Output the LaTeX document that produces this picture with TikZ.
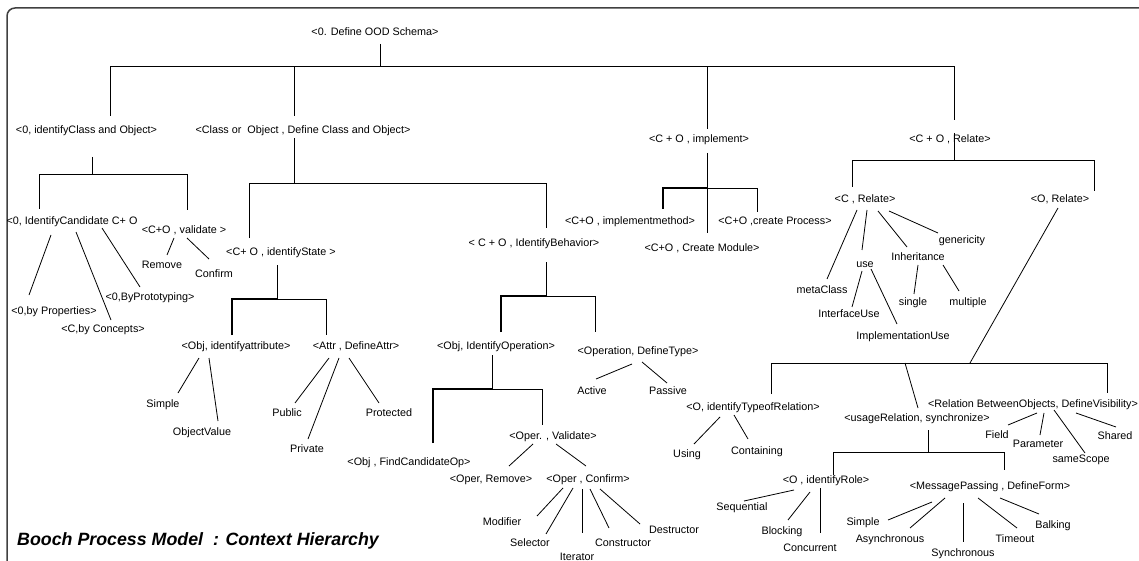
\documentclass[tikz,border=0pt]{standalone}
\usepackage{fontspec}
\setmainfont{Liberation Sans}
\newcommand{\lblfont}{\fontsize{10.8}{12}\selectfont}
\newcommand{\ttlfont}{\fontsize{17.8}{20}\selectfont\bfseries\itshape}
\begin{document}
\begin{tikzpicture}[x=1pt,y=-1pt,
  lbl/.style={inner sep=0pt, text height=7.8pt, text depth=0pt, font=\lblfont},
  conn/.style={line width=0.8pt, black},
  heavy/.style={line width=1.4pt, black},
  framestyle/.style={line width=1.5pt, black!75, rounded corners=8pt}]
\useasboundingbox (0,0) rectangle (1139,561);
\draw[framestyle] (7,561) -- (7,8) -- (1139,8);

% ---------- labels ----------
\node[lbl] (root) at (375,32) {<0. Define OOD Schema>};
\node[lbl] (ico) at (86.5,130) {<0, identifyClass and Object>};
\node[lbl] (cdo) at (303,130) {<Class or\ \ Object , Define Class and Object>};
\node[lbl] (imp) at (699,139) {<C + O , implement>};
\node[lbl] (rel) at (950,139) {<C + O , Relate>};

\node[lbl] (cand) at (72,221) {<0, IdentifyCandidate C+ O};
\node[lbl] (val) at (184,230) {<C+O , validate >};
\node[lbl] (byprop) at (54,311) {<0,by Properties>};
\node[lbl] (bycon) at (103,329) {<C,by Concepts>};
\node[lbl] (byproto) at (150,297) {<0,ByPrototyping>};
\node[lbl] (remove) at (162,265) {Remove};
\node[lbl] (confirm) at (214,274) {Confirm};

\node[lbl] (state) at (281,252) {<C+ O , identifyState >};
\node[lbl] (attr) at (236,346) {<Obj, identifyattribute>};
\node[lbl] (defattr) at (356,346) {<Attr , DefineAttr>};
\node[lbl] (simplea) at (163,404) {Simple};
\node[lbl] (objval) at (202,432) {ObjectValue};
\node[lbl] (public) at (287,413) {Public};
\node[lbl] (private) at (307,449) {Private};
\node[lbl] (protected) at (389,413) {Protected};

\node[lbl] (beh) at (534,243) {< C + O , IdentifyBehavior>};
\node[lbl] (idop) at (496,346) {<Obj, IdentifyOperation>};
\node[lbl] (deftype) at (638,351) {<Operation, DefineType>};
\node[lbl] (active) at (592,391) {Active};
\node[lbl] (passive) at (668,391) {Passive};
\node[lbl] (findop) at (409,462) {<Obj , FindCandidateOp>};
\node[lbl] (operval) at (553,436) {<Oper. , Validate>};
\node[lbl] (operrem) at (491,479) {<Oper, Remove>};
\node[lbl] (opercon) at (588,479) {<Oper , Confirm>};
\node[lbl] (modifier) at (502,522) {Modifier};
\node[lbl] (selector) at (530,543) {Selector};
\node[lbl] (iterator) at (577,557) {Iterator};
\node[lbl] (constructor) at (623,543) {Constructor};
\node[lbl] (destructor) at (674,530) {Destructor};

\node[lbl] (implm) at (630,221) {<C+O , implementmethod>};
\node[lbl] (module) at (702,248) {<C+O , Create Module>};
\node[lbl] (process) at (775,221) {<C+O ,create Process>};

\node[lbl] (crel) at (865,199) {<C , Relate>};
\node[lbl] (orel) at (1060,199) {<O, Relate>};
\node[lbl] (metaclass) at (822,290) {metaClass};
\node[lbl] (use) at (865,264) {use};
\node[lbl] (inherit) at (918,257) {Inheritance};
\node[lbl] (generic) at (962,240) {genericity};
\node[lbl] (ifuse) at (849,314) {InterfaceUse};
\node[lbl] (impluse) at (903,336) {ImplementationUse};
\node[lbl] (single) at (913,302) {single};
\node[lbl] (multiple) at (968,302) {multiple};

\node[lbl] (typerel) at (753,407) {<O, identifyTypeofRelation>};
\node[lbl] (usage) at (917,418) {<usageRelation, synchronize>};
\node[lbl] (vis) at (1033,404) {<Relation BetweenObjects, DefineVisibility>};
\node[lbl] (using) at (687,454) {Using};
\node[lbl] (containing) at (757,451) {Containing};
\node[lbl] (field) at (997,435) {Field};
\node[lbl] (parameter) at (1038,444) {Parameter};
\node[lbl] (samescope) at (1081,459) {sameScope};
\node[lbl] (shared) at (1115,436) {Shared};
\node[lbl] (role) at (826,480) {<O , identifyRole>};
\node[lbl] (msg) at (990,486) {<MessagePassing , DefineForm>};
\node[lbl] (sequential) at (742,507) {Sequential};
\node[lbl] (blocking) at (782,531) {Blocking};
\node[lbl] (concurrent) at (810,548) {Concurrent};
\node[lbl] (simpleb) at (863,522) {Simple};
\node[lbl] (async) at (890,539) {Asynchronous};
\node[lbl] (sync) at (963,553) {Synchronous};
\node[lbl] (timeout) at (1015,539) {Timeout};
\node[lbl] (balking) at (1053,525) {Balking};

\node[anchor=west, inner sep=0pt, font=\ttlfont] (title) at (17,541) {Booch Process Model\ \ : Context Hierarchy};

% ---------- connectors ----------
% level 1
\draw[conn] ([shift={(5,12)}]root.center) -- ++(0,22);
\draw[conn] ([shift={(23.5,-14)}]ico.center) |- ([shift={(4,-73)}]rel.center) -- ([shift={(4,-19)}]rel.center);
\draw[conn] ([shift={(-9,-14)}]cdo.center) -- ++(0,-50);
\draw[conn] ([shift={(8,-10)}]imp.center) -- ++(0,-63);

% identify class and object
\draw[conn] ([shift={(5.5,27)}]ico.center) -- ++(0,17);
\draw[conn] ([shift={(-33,-12)}]cand.center) |- ([shift={(3,-56)}]val.center) -- ([shift={(3,-20)}]val.center);
\draw[conn] ([shift={(-21,14)}]cand.center) -- ([shift={(-25,-16)}]byprop.center);
\draw[conn] ([shift={(4,11)}]cand.center) -- ([shift={(8,-9)}]bycon.center);
\draw[conn] ([shift={(30,7)}]cand.center) -- ([shift={(-10,-10)}]byproto.center);
\draw[conn] ([shift={(-10,8)}]val.center) -- ([shift={(5,-10)}]remove.center);
\draw[conn] ([shift={(3,8)}]val.center) -- ([shift={(-5,-15)}]confirm.center);

% define class and object
\draw[conn] ([shift={(-9,8)}]cdo.center) -- ++(0,45);
\draw[conn] ([shift={(-32,-14)}]state.center) |- ([shift={(12,-60)}]beh.center) -- ([shift={(12,-15)}]beh.center);

% identify state
\draw[conn] ([shift={(-4,13)}]state.center) -- ++(0,34);
\draw[heavy] ([shift={(-4,-11)}]attr.center) |- ([shift={(-4,47)}]state.center);
\draw[conn] ([shift={(-4,47)}]state.center) -| ([shift={(-30,-11)}]defattr.center);
\draw[conn] ([shift={(-37,12)}]attr.center) -- ([shift={(15,-11)}]simplea.center);
\draw[conn] ([shift={(-27,12)}]attr.center) -- ([shift={(16,-11)}]objval.center);
\draw[conn] ([shift={(-27,12)}]defattr.center) -- ([shift={(8,-10)}]public.center);
\draw[conn] ([shift={(-17,12)}]defattr.center) -- ([shift={(1,-10)}]private.center);
\draw[conn] ([shift={(-7,12)}]defattr.center) -- ([shift={(-10,-10)}]protected.center);

% identify behavior
\draw[conn] ([shift={(12,19)}]beh.center) -- ++(0,34);
\draw[heavy] ([shift={(5,-14)}]idop.center) |- ([shift={(12,53)}]beh.center);
\draw[conn] ([shift={(12,53)}]beh.center) -| ([shift={(-43,-19)}]deftype.center);
\draw[conn] ([shift={(-6,13)}]deftype.center) -- ([shift={(4,-12)}]active.center);
\draw[conn] ([shift={(4,11)}]deftype.center) -- ([shift={(-1,-8)}]passive.center);

% identify operation
\draw[conn] ([shift={(-4,9)}]idop.center) -- ++(0,34);
\draw[heavy] ([shift={(24,-19)}]findop.center) |- ([shift={(-4,43)}]idop.center);
\draw[conn] ([shift={(-4,43)}]idop.center) -| ([shift={(-11,-11)}]operval.center);
\draw[conn] ([shift={(-20,8)}]operval.center) -- ([shift={(18,-13)}]operrem.center);
\draw[conn] ([shift={(3,8)}]operval.center) -- ([shift={(-2,-13)}]opercon.center);
\draw[conn] ([shift={(-25,9)}]opercon.center) -- ([shift={(35,-6)}]modifier.center);
\draw[conn] ([shift={(-15,9)}]opercon.center) -- ([shift={(16,-9)}]selector.center);
\draw[conn] ([shift={(-6,10)}]opercon.center) -- ([shift={(5,-24)}]iterator.center);
\draw[conn] ([shift={(2,10)}]opercon.center) -- ([shift={(-14,-15)}]constructor.center);
\draw[conn] ([shift={(12,10)}]opercon.center) -- ([shift={(-34,-6)}]destructor.center);

% implement
\draw[conn] ([shift={(8,14)}]imp.center) -- ([shift={(5,-15)}]module.center);
\draw[heavy] ([shift={(33,-12)}]implm.center) |- ([shift={(8,49)}]imp.center);
\draw[conn] ([shift={(8,49)}]imp.center) -| ([shift={(-18,-9)}]process.center);

% relate
\draw[conn] ([shift={(4,-6)}]rel.center) -- ++(0,27);
\draw[conn] ([shift={(-13,-12)}]crel.center) |- ([shift={(34,-39)}]orel.center) -- ([shift={(34,-8)}]orel.center);
\draw[conn] ([shift={(-8,11)}]crel.center) -- ([shift={(5,-11)}]metaclass.center);
\draw[conn] ([shift={(2,11)}]crel.center) -- ([shift={(-3,-14)}]use.center);
\draw[conn] ([shift={(13,12)}]crel.center) -- ([shift={(-11,-10)}]inherit.center);
\draw[conn] ([shift={(24,12)}]crel.center) -- ([shift={(-24,-7)}]generic.center);
\draw[conn] ([shift={(-3,7)}]use.center) -- ([shift={(3,-7)}]ifuse.center);
\draw[conn] ([shift={(6,5)}]use.center) -- ([shift={(-6,-12)}]impluse.center);
\draw[conn] ([shift={(0,8)}]inherit.center) -- ([shift={(1,-8)}]single.center);
\draw[conn] ([shift={(25,8)}]inherit.center) -- ([shift={(-9,-11)}]multiple.center);

% object relate
\draw[conn] ([shift={(-2,9)}]orel.center) -- ([shift={(53,-55)}]usage.center);
\draw[conn] ([shift={(18,-13)}]typerel.center) |- ([shift={(74,-41)}]vis.center) -- ([shift={(74,-11)}]vis.center);
\draw[conn] ([shift={(-12,-55)}]usage.center) -- ([shift={(1,-10)}]usage.center);
\draw[conn] ([shift={(-33,10)}]typerel.center) -- ([shift={(7,-10)}]using.center);
\draw[conn] ([shift={(-19,8)}]typerel.center) -- ([shift={(-9,-12)}]containing.center);
\draw[conn] ([shift={(4,9)}]vis.center) -- ([shift={(11,-10)}]field.center);
\draw[conn] ([shift={(11,9)}]vis.center) -- ([shift={(2,-9)}]parameter.center);
\draw[conn] ([shift={(21,6)}]vis.center) -- ([shift={(4,-6)}]samescope.center);
\draw[conn] ([shift={(43,9)}]vis.center) -- ([shift={(1,-9)}]shared.center);

% usage relation
\draw[conn] ([shift={(11,12)}]usage.center) -- ++(0,22);
\draw[conn] ([shift={(7,-5)}]role.center) |- ([shift={(14,-34)}]msg.center) -- ([shift={(14,-16)}]msg.center);
\draw[conn] ([shift={(-32,10)}]role.center) -- ([shift={(2,-6)}]sequential.center);
\draw[conn] ([shift={(-16,12)}]role.center) -- ([shift={(6,-11)}]blocking.center);
\draw[conn] ([shift={(-6,8)}]role.center) -- ([shift={(10,-15)}]concurrent.center);
\draw[conn] ([shift={(-58,16)}]msg.center) -- ([shift={(25,-2)}]simpleb.center);
\draw[conn] ([shift={(-45,12)}]msg.center) -- ([shift={(20,-11)}]async.center);
\draw[conn] ([shift={(-27,17)}]msg.center) -- ([shift={(0,-11)}]sync.center);
\draw[conn] ([shift={(-12,12)}]msg.center) -- ([shift={(2,-11)}]timeout.center);
\draw[conn] ([shift={(10,12)}]msg.center) -- ([shift={(-14,-11)}]balking.center);
\end{tikzpicture}
\end{document}
